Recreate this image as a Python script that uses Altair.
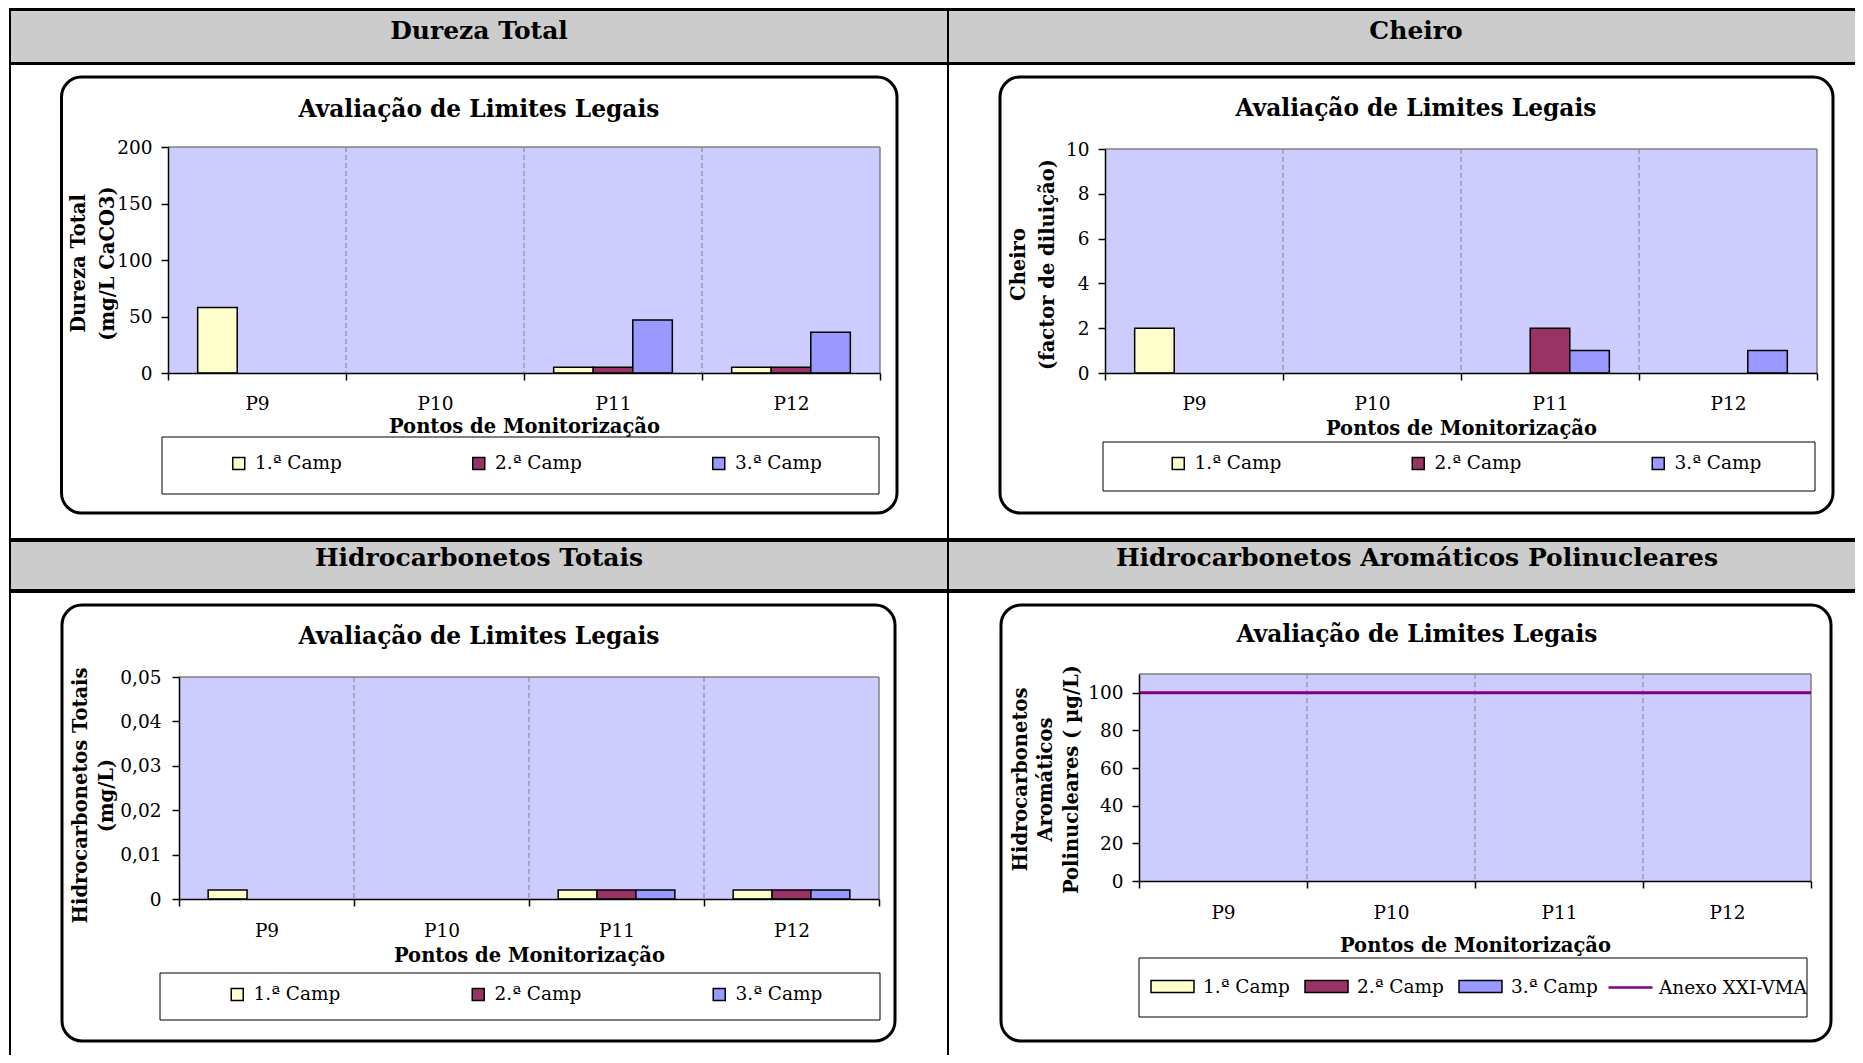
import altair as alt
import pandas as pd

# ---------------- data ----------------
PONTOS = ["P9", "P10", "P11", "P12"]
CAMPANHAS = ["1.ª Camp", "2.ª Camp", "3.ª Camp"]
CORES_CAMP = ["#FFFFCC", "#993366", "#9999FF"]

dureza_1 = [58, None, 5, 5]
dureza_2 = [None, None, 5, 5]
dureza_3 = [None, None, 47, 36]

cheiro_1 = [2, None, None, None]
cheiro_2 = [None, None, 2, None]
cheiro_3 = [None, None, 1, 1]

htot_1 = [0.002, None, 0.002, 0.002]
htot_2 = [None, None, 0.002, 0.002]
htot_3 = [None, None, 0.002, 0.002]

hap_1 = [None, None, None, None]
hap_2 = [None, None, None, None]
hap_3 = [None, None, None, None]
hap_vma = [100, 100, 100, 100]
VMA_NOME = "Anexo XXI-VMA"

HEADERS = ["Dureza Total", "Cheiro", "Hidrocarbonetos Totais",
           "Hidrocarbonetos Aromáticos Polinucleares"]
CHART_TITLE = "Avaliação de Limites Legais"
X_TITLE = "Pontos de Monitorização"
Y_TITLES = [["Dureza Total", "(mg/L CaCO3)"],
            ["Cheiro", "(factor de diluição)"],
            ["Hidrocarbonetos Totais", "(mg/L)"],
            ["Hidrocarbonetos", "Aromáticos", "Polinucleares ( µg/L)"]]
Y_MAX = [200, 10, 0.05, 110]
Y_TICKS = [[0, 50, 100, 150, 200],
           [0, 2, 4, 6, 8, 10],
           [0, 0.01, 0.02, 0.03, 0.04, 0.05],
           [0, 20, 40, 60, 80, 100]]

# ---------------- layout / style ----------------
SERIF = "DejaVu Serif"
GRAY_HDR = "#CCCCCC"
PLOT_BG = "#CCCCFF"
GRID = "#808080"
LABEL_SIZE = 18.5
AXTITLE_SIZE = 19.5
TITLE_SIZE = 23.3
HDR_SIZE = 25

LAYOUT = [
    dict(w=940, h=530, gray=(2, 940, 3, 54), lines=[(1, 940, 0, 3), (1, 940, 54, 57)],
         vlines=[(1, 3), (939, 941)], box=(53.5, 889, 69, 505), legbox=(154, 871, 429, 486),
         hdr=(471, 23), title=(471, 102), plot=(160, 872, 139, 365),
         ytx=70, yty=255, ylh=29, ylabpad=9, xlabpad=23, xtdy=53,
         legx=221.5, legy=446, colpad=127),
    dict(w=907, h=530, gray=(1, 907, 3, 54), lines=[(0, 907, 0, 3), (0, 907, 54, 57)],
         vlines=[], box=(52, 885, 69, 505), legbox=(155, 867, 434, 483),
         hdr=(468, 23), title=(468, 101), plot=(157, 869, 141, 365),
         ytx=70, yty=256, ylh=29, ylabpad=9, xlabpad=23, xtdy=55,
         legx=221, legy=446, colpad=127),
    dict(w=940, h=517, gray=(2, 940, 4, 51), lines=[(1, 940, 0, 4), (1, 940, 51, 55)],
         vlines=[(1, 3), (939, 941)], box=(54, 887, 67, 503), legbox=(152, 872, 435, 482),
         hdr=(471, 20), title=(471, 99), plot=(171, 871, 139, 361),
         ytx=72, yty=257, ylh=26, ylabpad=11, xlabpad=24, xtdy=56,
         legx=220, legy=447, colpad=128),
    dict(w=907, h=517, gray=(1, 907, 4, 51), lines=[(0, 907, 0, 4), (0, 907, 51, 55)],
         vlines=[], box=(53, 883, 67, 503), legbox=(191, 859, 420, 479),
         hdr=(469, 20), title=(469, 97), plot=(191, 863, 136, 343),
         ytx=72, yty=241, ylh=25.5, ylabpad=9, xlabpad=24, xtdy=64,
         legx=202, legy=426, colpad=12, vmax_x=659, vmax_y=426),
]

one = pd.DataFrame({"k": [0]})


def rect(x, x2, y, y2, **mk):
    return alt.Chart(one).mark_rect(**mk).encode(
        x=alt.value(x), x2=alt.value(x2), y=alt.value(y), y2=alt.value(y2))


def label(text, x, y, size, weight="bold"):
    return alt.Chart(one).mark_text(
        text=text, font=SERIF, fontSize=size, fontWeight=weight, color="black",
        align="center", baseline="middle").encode(x=alt.value(x), y=alt.value(y))


def make_df(v1, v2, v3):
    rows = []
    for camp, vals in zip(CAMPANHAS, (v1, v2, v3)):
        for p, v in zip(PONTOS, vals):
            if v is not None:
                rows.append({"Ponto": p, "Campanha": camp, "Valor": v})
    return pd.DataFrame(rows, columns=["Ponto", "Campanha", "Valor"])


DATA = [make_df(dureza_1, dureza_2, dureza_3),
        make_df(cheiro_1, cheiro_2, cheiro_3),
        make_df(htot_1, htot_2, htot_3),
        make_df(hap_1, hap_2, hap_3)]


def cell(i):
    L = LAYOUT[i]
    W, H = L["w"], L["h"]
    layers = []
    gx0, gx1, gy0, gy1 = L["gray"]
    layers.append(rect(gx0, gx1, gy0, gy1, fill=GRAY_HDR))
    for (a, b, c, d) in L["lines"]:
        layers.append(rect(a, b, c, d, fill="black"))
    for (a, b) in L["vlines"]:
        layers.append(rect(a, b, 0, H, fill="black"))
    bx0, bx1, by0, by1 = L["box"]
    layers.append(rect(bx0, bx1, by0, by1, fill="white", stroke="black",
                       strokeWidth=3, cornerRadius=20))
    lx0, lx1, ly0, ly1 = L["legbox"]
    layers.append(rect(lx0, lx1, ly0, ly1, fill="white", stroke="black", strokeWidth=1))
    layers.append(label(HEADERS[i], L["hdr"][0], L["hdr"][1], HDR_SIZE))
    layers.append(label(CHART_TITLE, L["title"][0], L["title"][1], TITLE_SIZE))

    x0, x1, y0, y1 = L["plot"]
    ymax = Y_MAX[i]
    xs = alt.Scale(type="band", domain=PONTOS, range=[x0, x1], paddingInner=0, paddingOuter=0)
    ys = alt.Scale(type="linear", domain=[0, ymax], range=[y1, y0], nice=False, zero=True)
    xaxis = alt.Axis(orient="bottom", offset=-(H - y1), title=X_TITLE, tickBand="extent",
                     labelAngle=0, labelFont=SERIF, labelFontSize=LABEL_SIZE, labelColor="black",
                     labelBaseline="middle", labelPadding=L["xlabpad"], tickSize=7,
                     tickWidth=1.5, tickColor="black", domainColor="black", domainWidth=1.5,
                     grid=False, titleFont=SERIF, titleFontSize=AXTITLE_SIZE,
                     titleFontWeight="bold", titleColor="black", titleBaseline="middle",
                     titleY=L["xtdy"], zindex=2)
    ykw = dict(orient="left", offset=-x0, values=Y_TICKS[i], title=Y_TITLES[i],
               labelFont=SERIF, labelFontSize=LABEL_SIZE, labelColor="black",
               labelPadding=L["ylabpad"], tickSize=7, tickWidth=1.5, tickColor="black",
               domainColor="black", domainWidth=1.5, grid=False,
               titleFont=SERIF, titleFontSize=AXTITLE_SIZE, titleFontWeight="bold",
               titleColor="black", titleX=L["ytx"] - x0, titleY=L["yty"], titleAngle=270,
               titleBaseline="middle", titleAlign="center", titleLineHeight=L["ylh"],
               zindex=2)
    if i == 2:
        ykw["labelExpr"] = "datum.value == 0 ? '0' : replace(format(datum.value, '.2f'), '.', ',')"
    yaxis = alt.Axis(**ykw)

    cats = pd.DataFrame({"Ponto": PONTOS})

    def X(**kw):
        return alt.X("Ponto:N", scale=xs, axis=xaxis, **kw)

    ytop = alt.Y(datum=ymax, type="quantitative", scale=ys, axis=yaxis)
    ybot = alt.Y2(datum=0)

    layers.append(alt.Chart(cats).mark_rect(fill=PLOT_BG).encode(x=X(), y=ytop, y2=ybot))
    layers.append(alt.Chart(cats).mark_rect(fill="transparent", stroke=GRID, strokeWidth=1)
                  .encode(x=X(), y=ytop, y2=alt.Y2(datum=ymax)))
    layers.append(alt.Chart(cats).transform_filter("datum.Ponto != 'P9'")
                  .mark_rule(stroke=GRID, strokeDash=[5, 3], strokeWidth=1)
                  .encode(x=X(bandPosition=0), y=ytop, y2=ybot))
    layers.append(alt.Chart(cats).transform_filter("datum.Ponto == 'P12'")
                  .mark_rule(stroke=GRID, strokeWidth=1.5)
                  .encode(x=X(bandPosition=1), y=ytop, y2=ybot))

    if i == 3:
        legkw = dict(symbolType="M-1,-0.28H1V0.28H-1Z", symbolSize=1849, labelOffset=8)
    else:
        legkw = dict(symbolType="square", symbolSize=144, labelOffset=7)
    leg = alt.Legend(orient="none", legendX=L["legx"], legendY=L["legy"],
                     direction="horizontal", columns=3, title=None,
                     symbolStrokeColor="black", symbolStrokeWidth=1.5,
                     labelFont=SERIF, labelFontSize=LABEL_SIZE, labelColor="black",
                     columnPadding=L["colpad"], padding=0, gridAlign="all", **legkw)
    bars = alt.Chart(DATA[i]).mark_bar(stroke="black", strokeWidth=1.5).encode(
        x=X(),
        xOffset=alt.XOffset("Campanha:N", scale=alt.Scale(domain=CAMPANHAS, paddingInner=0,
                                                          paddingOuter=0.75)),
        y=alt.Y("Valor:Q", scale=ys, axis=yaxis),
        color=alt.Color("Campanha:N", scale=alt.Scale(domain=CAMPANHAS, range=CORES_CAMP),
                        legend=leg),
    )
    layers.append(bars)

    if i == 3:
        vdf = pd.DataFrame({"Ponto": PONTOS, "Valor": hap_vma, "Serie": VMA_NOME})
        leg2 = alt.Legend(orient="none", legendX=L["vmax_x"], legendY=L["vmax_y"],
                          direction="horizontal", title=None, symbolType="stroke",
                          symbolSize=1936, symbolStrokeWidth=2.5, labelOffset=5,
                          labelFont=SERIF, labelFontSize=LABEL_SIZE, labelColor="black",
                          padding=0)
        layers.append(alt.Chart(vdf).mark_rect(fill="transparent", strokeWidth=3).encode(
            x=X(), y=alt.Y("Valor:Q", scale=ys, axis=yaxis), y2=alt.Y2("Valor:Q"),
            stroke=alt.Stroke("Serie:N", scale=alt.Scale(domain=[VMA_NOME], range=["#800080"]),
                              legend=leg2)))

    return alt.layer(*layers).properties(width=W, height=H)


cells = [cell(i) for i in range(4)]
chart = alt.concat(*cells, columns=2, spacing=0, bounds="flush", align="each")
chart = chart.resolve_scale(x="independent", y="independent", xOffset="independent",
                            color="independent", stroke="independent")
chart = chart.resolve_axis(x="independent", y="independent")
chart = chart.resolve_legend(color="independent", stroke="independent")
chart = chart.configure_view(stroke=None).properties(padding=0, background="white")

chart.save("out.html", embed_options={"renderer": "svg", "actions": False})
